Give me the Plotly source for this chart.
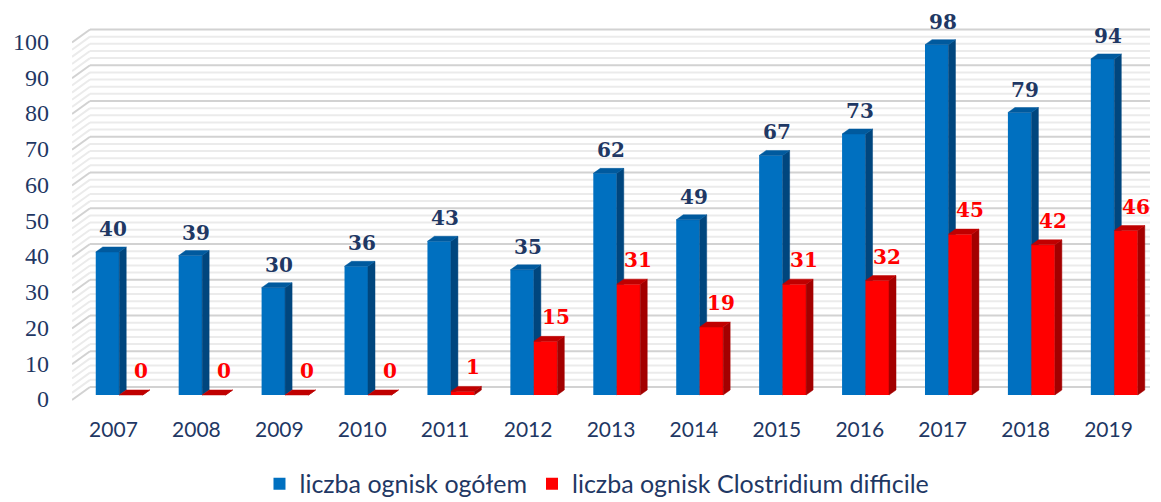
import plotly.graph_objects as go

# ---- data ----
years = ["2007", "2008", "2009", "2010", "2011", "2012", "2013",
         "2014", "2015", "2016", "2017", "2018", "2019"]
total = [40, 39, 30, 36, 43, 35, 62, 49, 67, 73, 98, 79, 94]
cdiff = [0, 0, 0, 0, 1, 15, 31, 19, 31, 32, 45, 42, 46]
y_ticks = [0, 10, 20, 30, 40, 50, 60, 70, 80, 90, 100]
series_names = ["liczba ognisk ogółem", "liczba ognisk Clostridium difficile"]

# ---- style ----
NAVY = "#1F3864"
BLUE = dict(front="#0070C0", side="#00467E", top="#005A9E")
RED = dict(front="#FF0000", side="#A30000", top="#C00000")
BAR_W = 0.283
DX = 0.0845   # depth offset in x units
DY = 1.4      # depth offset in y units
BLUE_OFF = -0.072
RED_OFF = BLUE_OFF + BAR_W

YMIN, YMAX = -2.8, 104.9
idx = list(range(len(years)))

fig = go.Figure()


def faces(values, offset, colors, xa, ya, name):
    xs = [i + offset for i in idx]
    fig.add_trace(go.Bar(x=xs, y=values, width=BAR_W, name=name,
                         marker=dict(color=colors["front"], line=dict(width=0)),
                         xaxis=xa, yaxis=ya, hoverinfo="skip"))
    sx, sy, tx, ty = [], [], [], []
    for xc, v in zip(xs, values):
        xl, xr = xc - BAR_W / 2, xc + BAR_W / 2
        sx += [xr, xr + DX, xr + DX, xr, xr, None]
        sy += [0, DY, v + DY, v, 0, None]
        tx += [xl, xl + DX, xr + DX, xr, xl, None]
        ty += [v, v + DY, v + DY, v, v, None]
    for px, py, col in ((sx, sy, colors["side"]), (tx, ty, colors["top"])):
        fig.add_trace(go.Scatter(x=px, y=py, mode="lines", fill="toself",
                                 fillcolor=col, line=dict(width=0.5, color=col),
                                 xaxis=xa, yaxis=ya, showlegend=False,
                                 hoverinfo="skip"))
    return xs


bx = faces(total, BLUE_OFF, BLUE, "x", "y", series_names[0])
rx = faces(cdiff, RED_OFF, RED, "x2", "y2", series_names[1])

# ---- value labels ----
ann = []
for xc, v in zip(bx, total):
    ann.append(dict(x=xc + 0.07, y=v, xref="x", yref="y", text=str(v),
                    showarrow=False, yanchor="middle", yshift=23,
                    font=dict(family="DejaVu Serif", size=20, color=NAVY,
                              weight="bold")))
for xc, v in zip(rx, cdiff):
    ann.append(dict(x=xc + 0.12, y=v, xref="x", yref="y", text=str(v),
                    showarrow=False, yanchor="middle", yshift=24,
                    font=dict(family="DejaVu Serif", size=20, color="#FF0000",
                              weight="bold")))

# ---- walls (back wall gridlines + left side wall) ----
shapes = []
BACK_DY = 2.24
FRONT_DY = -1.4
WALL_X0 = -0.5
WALL_X1 = -0.283
for v in range(0, 101, 2):
    major = v % 10 == 0
    col = "#D2D2D2" if major else "#EBEBEB"
    shapes.append(dict(type="line", xref="x", yref="y", layer="below",
                       x0=WALL_X1, x1=12.5, y0=v + BACK_DY, y1=v + BACK_DY,
                       line=dict(color=col, width=2)))
    shapes.append(dict(type="line", xref="x", yref="y", layer="below",
                       x0=WALL_X0, x1=WALL_X1, y0=v + FRONT_DY, y1=v + BACK_DY,
                       line=dict(color=col, width=2)))

# page body has an 8px default margin -> figure is 8px smaller, margins compensated
fig.update_layout(
    width=1153, height=494,
    margin=dict(l=64, r=11, t=12, b=97, autoexpand=False),
    paper_bgcolor="white", plot_bgcolor="white",
    barmode="overlay",
    showlegend=True,
    legend=dict(orientation="h", x=0.487, xanchor="center", y=-0.205,
                yanchor="middle", font=dict(family="Lato", size=25, color=NAVY),
                itemwidth=30, traceorder="normal"),
    xaxis=dict(range=[-0.5, 12.5], tickvals=idx, ticktext=years,
               showgrid=False, zeroline=False, showline=False,
               ticks="outside", ticklen=6, tickcolor="rgba(0,0,0,0)",
               tickfont=dict(family="Lato", size=21, color=NAVY)),
    yaxis=dict(range=[YMIN, YMAX], tickvals=y_ticks, showgrid=False,
               zeroline=False, showline=False, ticks="",
               ticklabelshift=4, ticklabelstandoff=22,
               tickfont=dict(family="Liberation Serif, serif", size=24, color=NAVY)),
    xaxis2=dict(range=[-0.5, 12.5], overlaying="x", visible=False),
    yaxis2=dict(range=[YMIN, YMAX], overlaying="y", visible=False),
    annotations=ann,
    shapes=shapes,
)

fig.write_html("out.html")
